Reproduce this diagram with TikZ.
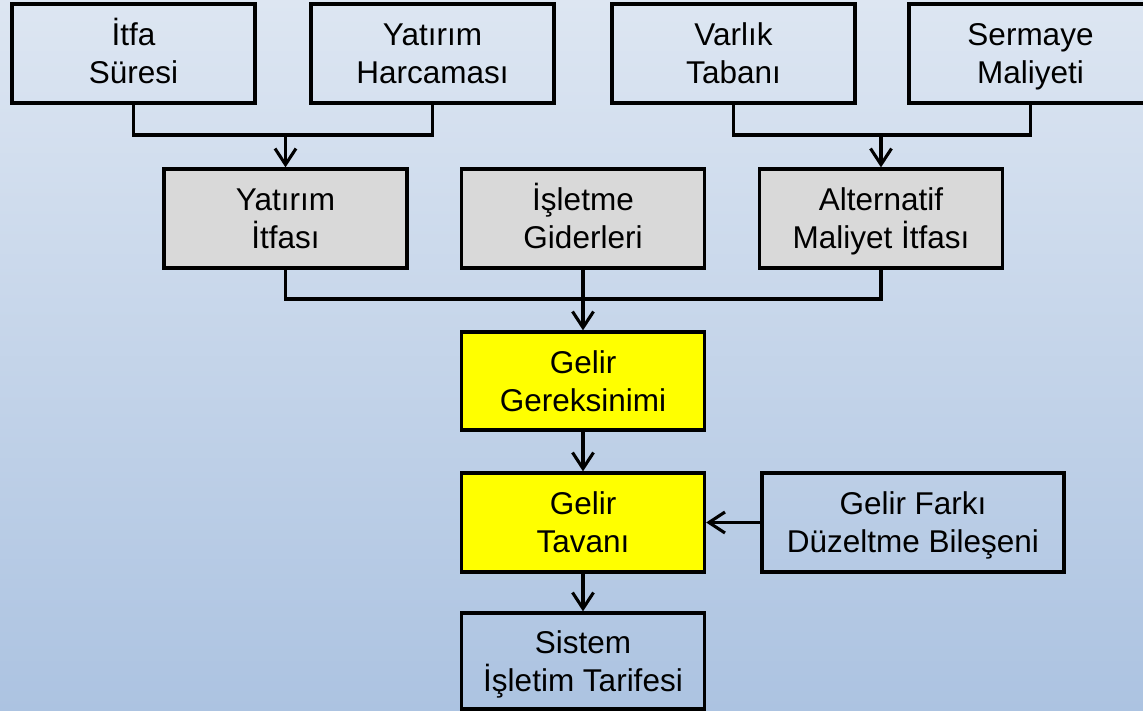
\documentclass[tikz,border=0pt]{standalone}
\usepackage{fontspec}
\setmainfont{Liberation Sans}
\usetikzlibrary{arrows.meta}
\definecolor{bgtop}{RGB}{221,230,242}
\definecolor{bgbot}{RGB}{172,195,225}
\definecolor{greybox}{RGB}{217,217,217}
\definecolor{yellowbox}{RGB}{255,255,0}
\newcommand{\ls}{\rule{0pt}{30pt}\rule[-8pt]{0pt}{8pt}}
\tikzset{
  box/.style={draw=black, line width=3.3pt, minimum width=243pt, minimum height=99pt,
    inner sep=0pt, align=center, font=\fontsize{31.5}{38}\selectfont},
  greyb/.style={box, fill=greybox},
  yellowb/.style={box, fill=yellowbox},
  link/.style={line width=3.1pt, draw=black},
  arr/.style={link, -{Straight Barb[length=16pt,width=21pt]}},
}
\begin{document}
\begin{tikzpicture}[x=1pt,y=-1pt]
\shade[top color=bgtop, bottom color=bgbot] (0,0) rectangle (1143,711);
\useasboundingbox (0,0) rectangle (1143,711);
\clip (0,0) rectangle (1143,711);
% row 1
\node[box] (itfa) at (133.5,53.5) {\ls İtfa\\\ls Süresi};
\node[box] (harc) at (432.5,53.5) {\ls Yatırım\\\ls Harcaması};
\node[box] (varlik) at (733.5,53.5) {\ls Varlık\\\ls Tabanı};
\node[box] (serm) at (1030.5,53.5) {\ls Sermaye\\\ls Maliyeti};
% row 2
\node[greyb] (yi) at (285.5,218.5) {\ls Yatırım\\\ls İtfası};
\node[greyb] (isl) at (583,218.5) {\ls İşletme\\\ls Giderleri};
\node[greyb] (alt) at (881,218.5) {\ls Alternatif\\\ls Maliyet İtfası};
% lower
\node[yellowb, minimum height=98pt] (ger) at (583,381) {\ls Gelir\\\ls Gereksinimi};
\node[yellowb] (tav) at (583,522.5) {\ls Gelir\\\ls Tavanı};
\node[box, minimum width=302pt] (fark) at (913,522.5) {\ls Gelir Farkı\\\ls Düzeltme Bileşeni};
\node[box, minimum height=96pt] (sis) at (583,661) {\ls Sistem\\\ls İşletim Tarifesi};
% junctions
\coordinate (j1) at (285.5,135);
\coordinate (j2) at (881,135);
\coordinate (j3) at (583,299);
% connectors
\draw[link] (itfa.south) |- (j1) -| (harc.south);
\draw[arr] (j1) -- (yi.north);
\draw[link] (varlik.south) |- (j2) -| (serm.south);
\draw[arr] (j2) -- (alt.north);
\draw[link] (yi.south) |- (j3) -| (alt.south);
\draw[arr] (isl.south) -- (ger.north);
\draw[arr] (ger.south) -- (tav.north);
\draw[arr] (tav.south) -- (sis.north);
\draw[arr] (fark.west) -- (tav.east);
\end{tikzpicture}
\end{document}
